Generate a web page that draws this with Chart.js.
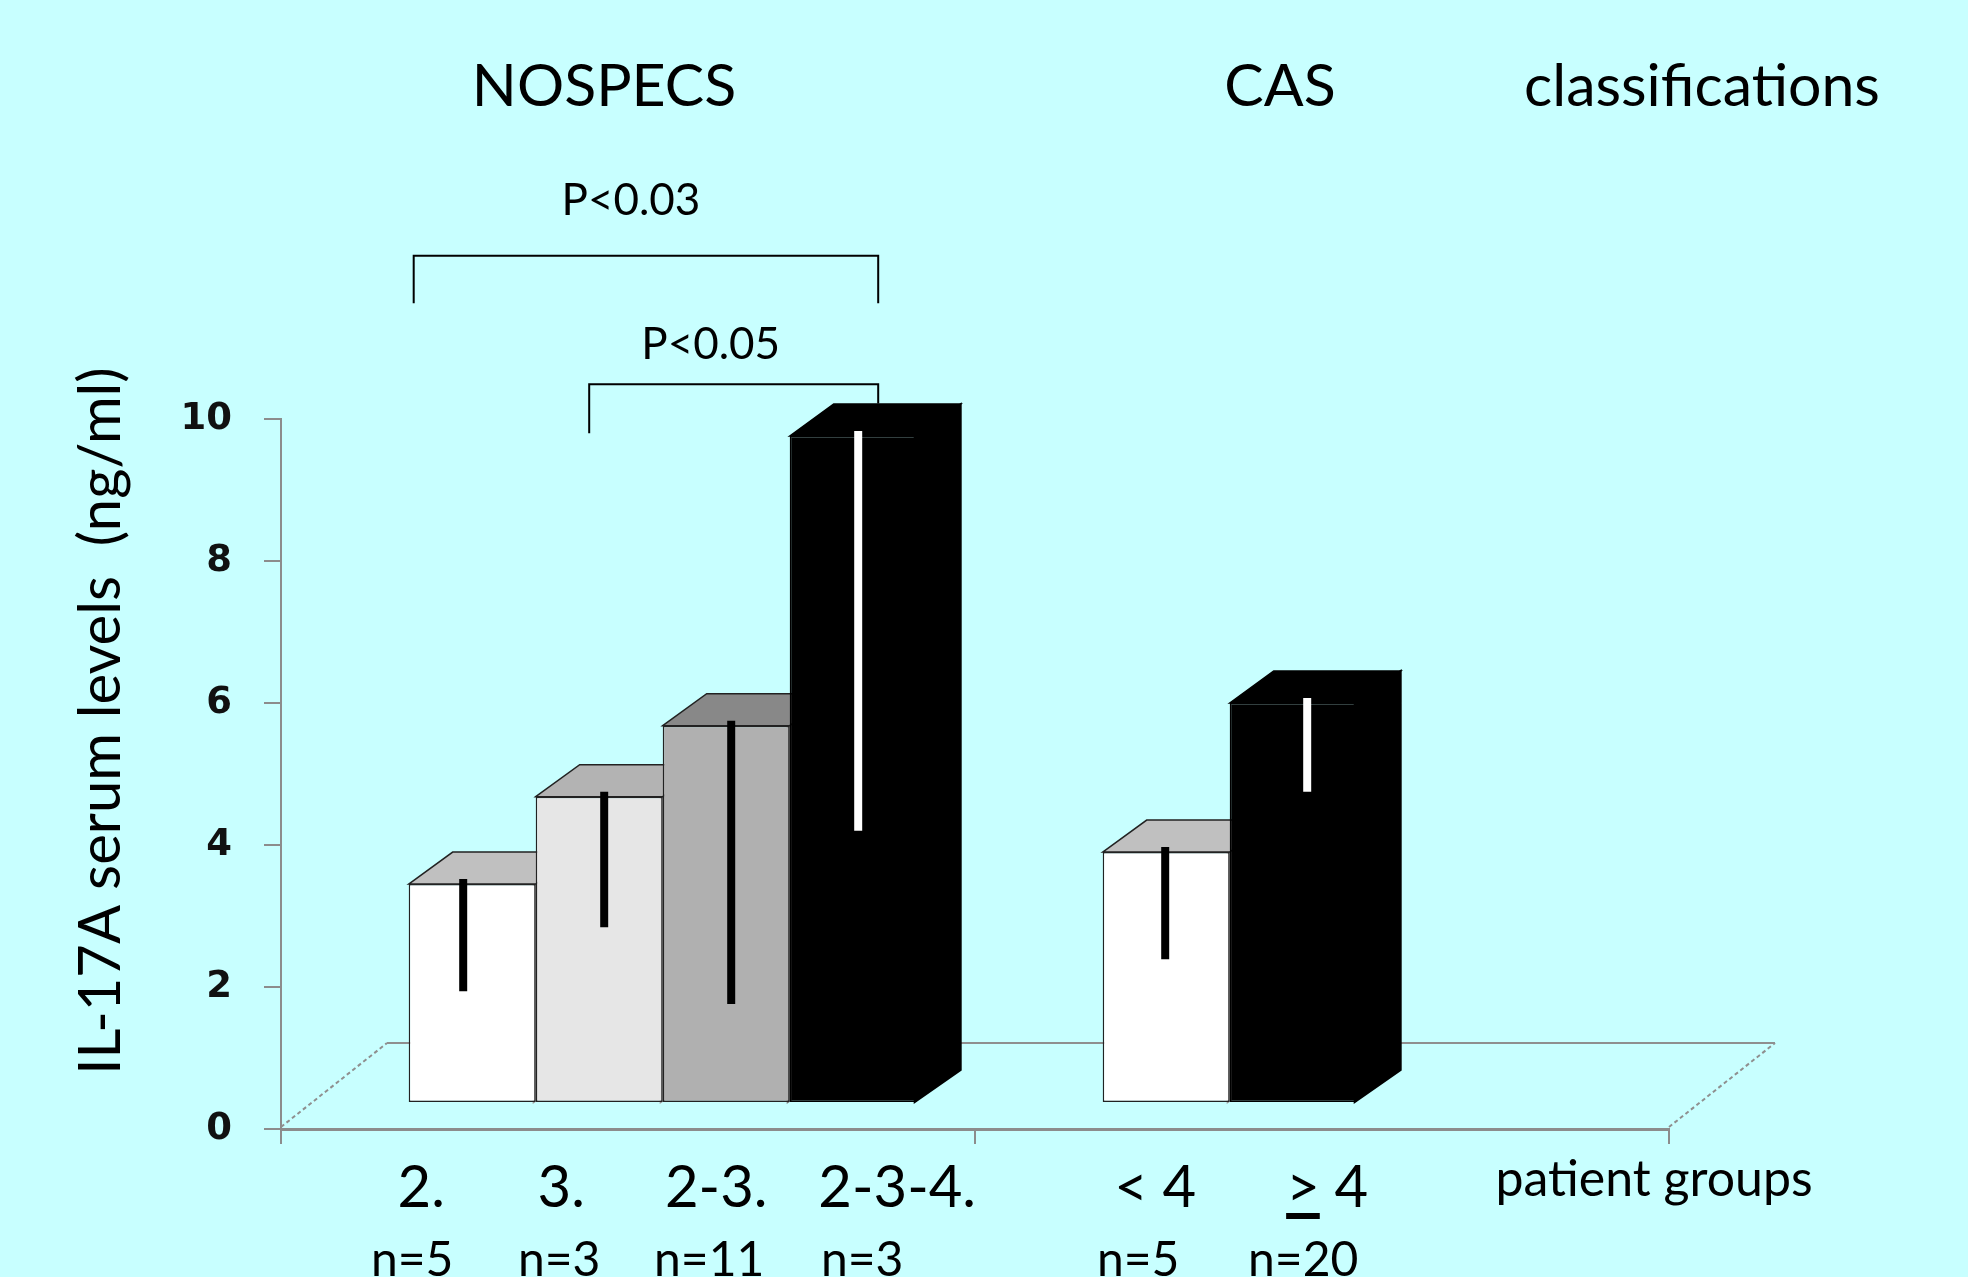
<!DOCTYPE html>
<html>
<head>
<meta charset="utf-8">
<script src="https://cdn.jsdelivr.net/npm/chart.js@4.4.1/dist/chart.umd.min.js"></script>
<style>
  html, body { margin: 0; padding: 0; background: #c8ffff; }
  #caixa { position: relative; width: 1968px; height: 1277px; }
</style>
</head>
<body>
<div id="caixa"><canvas id="grafico"></canvas></div>
<script>
// grupos de classificacao (eixo x)
const grupos = ['NOSPECS', 'CAS'];

// valores medios lidos no topo frontal de cada barra (ng/ml)
const serie1 = [3.45, 3.9];    // 2.     |  < 4
const serie2 = [4.68, 6.0];    // 3.     |  >= 4
const serie3 = [5.68, null];   // 2-3.
const serie4 = [9.76, null];   // 2-3-4.

// ponta inferior da linha de erro
const erro1 = [1.94, 2.39];
const erro2 = [2.84, 4.75];
const erro3 = [1.76, null];
const erro4 = [4.2, null];

// rotulos de cada barra
const rotulos = [['2.', '< 4'], ['3.', '> 4'], ['2-3.', ''], ['2-3-4.', '']];
const nPacientes = [['n=5', 'n=5'], ['n=3', 'n=20'], ['n=11', ''], ['n=3', '']];

const ticksY = [0, 2, 4, 6, 8, 10];

// comparacoes: [serie inicial, serie final, texto, altura da barra, pe esq, pe dir]
const comparacoes = [
  [0, 3, 'P<0.03', 12.3, 11.63, 11.63],
  [1, 3, 'P<0.05', 10.49, 9.8, 10.22]
];

// ---- estilo / 3D ----
const DX = 44, DY = -32;            // profundidade da barra
const PISO_DX = 106, PISO_DY = -84; // profundidade do piso
const BASE_BARRA = 0.38;            // nivel do piso na profundidade das barras
const DESLOC = 0.05;                // deslocamento das barras para dentro do piso
const corFrente = [['#ffffff', '#ffffff'], ['#e6e6e6', '#000000'], ['#b0b0b0', '#b0b0b0'], ['#000000', '#000000']];
const corBorda = [['#222', '#222'], ['#222', '#000'], ['#222', '#222'], ['#000', '#000']];
const corTopo = [['#c0c0c0', '#c0c0c0'], ['#b3b3b3', '#000000'], ['#888888', '#888888'], ['#000000', '#000000']];
const corLado = [['#999999', '#999999'], ['#999999', '#000000'], ['#777777', '#777777'], ['#000000', '#000000']];
const corErro = [['#000', '#000'], ['#000', '#fff'], ['#000', '#000'], ['#fff', '#fff']];
const ajusteErro = [[-9, -1], [5, 14], [5, 0], [5, 0]];
const ajusteRotulo = [[-51, -11], [-38, 34], [-10, 0], [44, 0]];
const ajusteN = [[-60, -28], [-40, 10], [-17, 0], [9, 0]];
const ajusteP = [[-15, -41], [-23, -25]];

const series = [serie1, serie2, serie3, serie4];
const erros = [erro1, erro2, erro3, erro4];

const FONTE = 'Lato, "Open Sans", sans-serif';

const efeito3d = {
  id: 'efeito3d',
  beforeDatasetsDraw(chart) {
    const { ctx, chartArea, scales } = chart;
    const y0 = scales.y.getPixelForValue(0) - 2;
    ctx.save();
    // piso
    ctx.strokeStyle = '#8f8f8f';
    ctx.lineWidth = 2;
    ctx.beginPath();
    ctx.moveTo(chartArea.left + PISO_DX, y0 + PISO_DY);
    ctx.lineTo(chartArea.right + PISO_DX, y0 + PISO_DY);
    ctx.stroke();
    ctx.setLineDash([4, 3]);
    ctx.beginPath();
    ctx.moveTo(chartArea.left, y0);
    ctx.lineTo(chartArea.left + PISO_DX, y0 + PISO_DY);
    ctx.moveTo(chartArea.right, y0);
    ctx.lineTo(chartArea.right + PISO_DX, y0 + PISO_DY);
    ctx.stroke();
    ctx.setLineDash([]);
    // topos e lados das barras
    chart.data.datasets.forEach((ds, k) => {
      const meta = chart.getDatasetMeta(k);
      meta.data.forEach((el, i) => {
        if (series[k][i] == null) return;
        const { x, y, base, width } = el.getProps(['x', 'y', 'base', 'width'], true);
        const l = x - width / 2, r = x + width / 2;
        ctx.fillStyle = corLado[k][i];
        ctx.strokeStyle = corLado[k][i];
        ctx.lineWidth = 2;
        ctx.beginPath();
        ctx.moveTo(r - 2, y); ctx.lineTo(r + DX, y + DY); ctx.lineTo(r + DX, base + DY); ctx.lineTo(r - 2, base);
        ctx.closePath(); ctx.fill(); ctx.stroke();
        ctx.fillStyle = corTopo[k][i];
        ctx.beginPath();
        ctx.moveTo(l, y); ctx.lineTo(l + DX, y + DY); ctx.lineTo(r + DX, y + DY); ctx.lineTo(r, y);
        ctx.closePath(); ctx.fill();
        ctx.strokeStyle = corBorda[k][i]; ctx.lineWidth = 1.5; ctx.stroke();
      });
    });
    ctx.restore();
  },
  afterDatasetsDraw(chart) {
    const { ctx, scales } = chart;
    ctx.save();
    ctx.lineWidth = 8;
    chart.data.datasets.forEach((ds, k) => {
      const meta = chart.getDatasetMeta(k);
      meta.data.forEach((el, i) => {
        if (series[k][i] == null || erros[k][i] == null) return;
        const { x, y } = el.getProps(['x', 'y'], true);
        const xe = x + ajusteErro[k][i];
        ctx.strokeStyle = corErro[k][i];
        ctx.beginPath();
        ctx.moveTo(xe, y - 5);
        ctx.lineTo(xe, scales.y.getPixelForValue(erros[k][i]));
        ctx.stroke();
      });
    });
    ctx.restore();
  },
  afterDraw(chart) {
    const { ctx, scales } = chart;
    const ys = scales.y;
    ctx.save();
    ctx.fillStyle = '#000';
    ctx.textBaseline = 'alphabetic';
    ctx.textAlign = 'center';

    // cabecalhos
    ctx.font = '59px ' + FONTE;
    ctx.fillText('NOSPECS', 604, 106);
    ctx.fillText('CAS', 1280, 106);
    ctx.fillText('classifications', 1702, 106);

    // comparacoes
    comparacoes.forEach(([a, b, txt, h, pe1, pe2], j) => {
      const ea = chart.getDatasetMeta(a).data[0];
      const eb = chart.getDatasetMeta(b).data[0];
      const xa = a === 0 ? ea.x - ea.width / 2 + 5 : ea.x - 10;
      const xb = eb.x + 25;
      const yh = ys.getPixelForValue(h);
      ctx.strokeStyle = '#000';
      ctx.lineWidth = 2;
      ctx.beginPath();
      ctx.moveTo(xa, ys.getPixelForValue(pe1));
      ctx.lineTo(xa, yh);
      ctx.lineTo(xb, yh);
      ctx.lineTo(xb, ys.getPixelForValue(pe2));
      ctx.stroke();
      ctx.font = '44px ' + FONTE;
      ctx.fillText(txt, (xa + xb) / 2 + ajusteP[j][0], yh + ajusteP[j][1]);
    });

    // rotulos das barras
    chart.data.datasets.forEach((ds, k) => {
      const meta = chart.getDatasetMeta(k);
      meta.data.forEach((el, i) => {
        if (series[k][i] == null) return;
        const cx = el.x + ajusteRotulo[k][i];
        const txt = rotulos[k][i];
        ctx.font = '58px ' + FONTE;
        ctx.fillText(txt, cx, 1207);
        if (txt.charAt(0) === '>') {
          const w = ctx.measureText(txt).width;
          const wg = ctx.measureText('>').width;
          ctx.fillRect(cx - w / 2, 1213, wg, 6);
        }
        ctx.font = '48px ' + FONTE;
        ctx.fillText(nPacientes[k][i], el.x + ajusteN[k][i], 1276);
      });
    });
    ctx.font = '50px ' + FONTE;
    ctx.fillText('patient groups', 1654, 1196);

    // titulo do eixo y
    ctx.translate(120, 721);
    ctx.rotate(-Math.PI / 2);
    ctx.font = '58px ' + FONTE;
    ctx.fillText('IL-17A serum levels  (ng/ml)', 0, 0);
    ctx.restore();
  }
};

function criaGrafico() {
  const datasets = series.map((s, k) => ({
    label: rotulos[k][0],
    data: s.map((v, i) => ({ x: i, y: v })),
    xAxisID: 'xb',
    base: BASE_BARRA,
    backgroundColor: corFrente[k],
    borderColor: corBorda[k],
    borderWidth: 1.5,
    borderSkipped: false,
    categoryPercentage: 0.732,
    barPercentage: 1
  }));

  new Chart(document.getElementById('grafico'), {
    type: 'bar',
    data: { datasets: datasets },
    plugins: [efeito3d],
    options: {
      responsive: true,
      maintainAspectRatio: false,
      animation: false,
      layout: { padding: { left: 0, top: 419, right: 299, bottom: 133 } },
      plugins: { legend: { display: false }, tooltip: { enabled: false } },
      scales: {
        x: {
          type: 'category',
          labels: grupos,
          offset: true,
          grid: { offset: true, drawOnChartArea: false, tickLength: 15, color: '#8c8c8c', lineWidth: 2 },
          border: { color: '#8c8c8c', width: 3 },
          ticks: { display: false },
          afterFit: s => { s.height = 15; }
        },
        xb: {
          type: 'linear',
          display: false,
          offset: false,
          grid: { offset: false },
          min: -0.5 - DESLOC,
          max: 1.5 - DESLOC,
          afterBuildTicks: s => { s.ticks = [{ value: 0 }, { value: 1 }]; }
        },
        y: {
          min: 0,
          max: 10,
          afterBuildTicks: s => { s.ticks = ticksY.map(v => ({ value: v })); },
          ticks: { padding: 32, color: '#111', font: { family: '"DejaVu Sans"', size: 37, weight: 'bold' } },
          grid: { drawOnChartArea: false, tickLength: 17, color: '#8c8c8c', lineWidth: 2 },
          border: { color: '#8c8c8c', width: 2 },
          afterFit: s => { s.width = 281; }
        }
      }
    }
  });
}

Promise.all([
  document.fonts.load('58px Lato'),
  document.fonts.load('bold 37px "DejaVu Sans"')
]).then(criaGrafico, criaGrafico);
</script>
</body>
</html>
